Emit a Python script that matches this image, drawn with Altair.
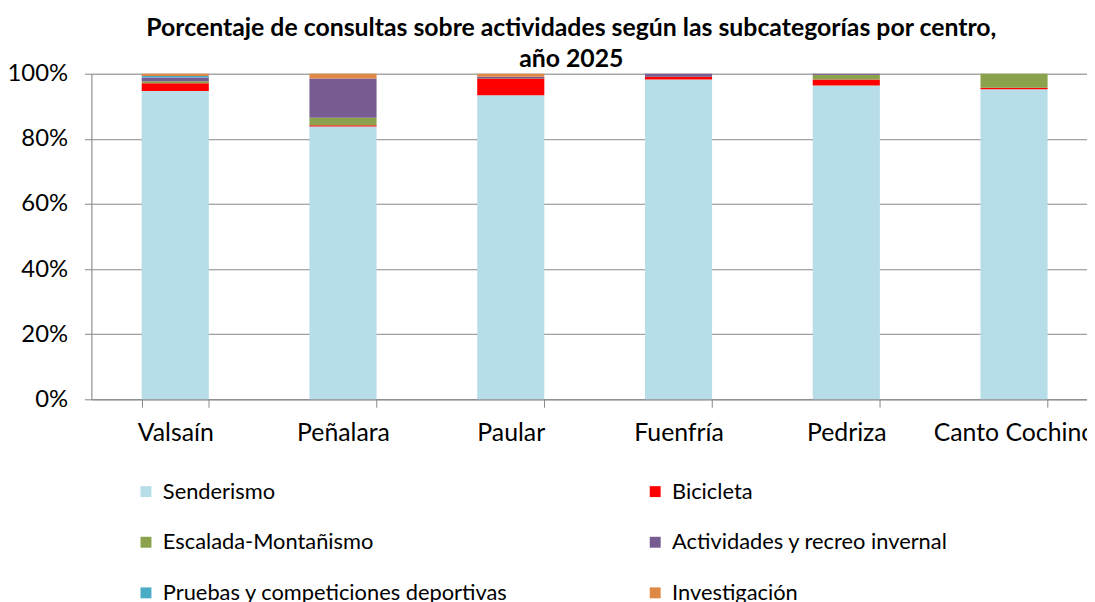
import altair as alt
import pandas as pd

centros = ["Valsaín", "Peñalara", "Paular", "Fuenfría", "Pedriza", "Canto Cochino"]
subcategorias = ["Senderismo", "Bicicleta", "Escalada-Montañismo",
                 "Actividades y recreo invernal", "Pruebas y competiciones deportivas",
                 "Investigación"]
colores = ["#B7DEE8", "#FF0000", "#8BA24D", "#765C91", "#4BACC6", "#DD8844"]

senderismo = [94.7, 83.8, 93.4, 98.2, 96.4, 95.2]
bicicleta = [2.4, 0.4, 5.1, 0.9, 1.8, 0.5]
escalada = [0.6, 2.3, 0.0, 0.0, 1.5, 4.3]
invernal = [1.1, 12.0, 0.6, 0.9, 0.3, 0.0]
pruebas = [0.5, 0.0, 0.0, 0.0, 0.0, 0.0]
investigacion = [0.7, 1.5, 0.9, 0.0, 0.0, 0.0]

series = [senderismo, bicicleta, escalada, invernal, pruebas, investigacion]
rows = []
for si, (name, vals) in enumerate(zip(subcategorias, series)):
    for c, v in zip(centros, vals):
        rows.append({"centro": c, "sub": name, "orden": si, "valor": v})
df = pd.DataFrame(rows)

# legend is laid out column by column: reorder so it reads row by row
leg_idx = [0, 2, 4, 1, 3, 5]
leg_dom = [subcategorias[i] for i in leg_idx]
leg_col = [colores[i] for i in leg_idx]

FONT = "Lato"

chart = alt.Chart(df).mark_bar().encode(
    x=alt.X("centro:N", sort=centros,
            scale=alt.Scale(paddingInner=0.6, paddingOuter=0.3, range=[0, 1014]),
            axis=alt.Axis(title=None, labelAngle=0, labelFontSize=25, labelPadding=14,
                          tickBand="extent", tickSize=8, tickColor="#888888",
                          domainColor="#888888", labelColor="#000000", labelFont=FONT)),
    y=alt.Y("valor:Q", stack="normalize",
            scale=alt.Scale(domain=[0, 1]),
            axis=alt.Axis(title=None, format=".0%", values=[0, 0.2, 0.4, 0.6, 0.8, 1.0],
                          labelFontSize=24, labelPadding=17, tickSize=7, tickColor="#888888",
                          domainColor="#888888", gridColor="#888888", gridWidth=1,
                          labelColor="#000000", labelFont=FONT)),
    color=alt.Color("sub:N",
                    scale=alt.Scale(domain=leg_dom, range=leg_col),
                    legend=alt.Legend(title=None, orient="none", legendX=44, legendY=410,
                                      columns=2, columnPadding=137, rowPadding=29,
                                      symbolType="square", symbolSize=121,
                                      symbolStrokeWidth=0, labelFontSize=22,
                                      labelFont=FONT, labelColor="#000000",
                                      labelLimit=600, labelOffset=6)),
    order=alt.Order("orden:Q", sort="ascending"),
).properties(
    width=1003, height=328,
    autosize=alt.AutoSizeParams(type="none"),
    padding={"left": 84, "top": 64, "right": 0, "bottom": 202},
    title=alt.TitleParams(
        text=["Porcentaje de consultas sobre actividades según las subcategorías por centro,",
              "año 2025"],
        font=FONT, fontSize=25, fontWeight="bold", color="#000000",
        anchor="middle", dx=-18, dy=16, lineHeight=31, offset=6),
).configure_view(stroke=None).configure(background="white")

chart.save("out.html", embed_options={"renderer": "svg", "actions": False})
